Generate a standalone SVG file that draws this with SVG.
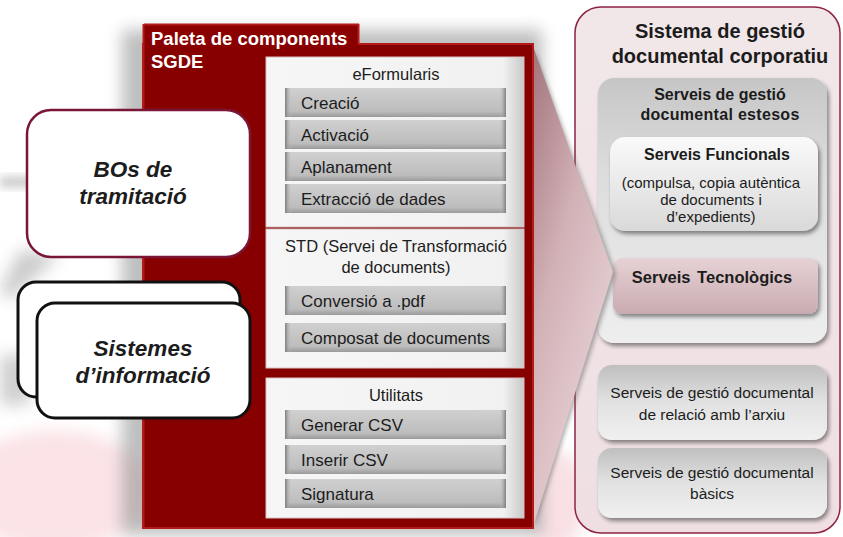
<svg xmlns="http://www.w3.org/2000/svg" width="843" height="537" viewBox="0 0 843 537">
<defs>
  <filter id="blur8" x="-30%" y="-30%" width="160%" height="160%"><feGaussianBlur stdDeviation="8"/></filter>
  <filter id="blur4" x="-30%" y="-30%" width="160%" height="160%"><feGaussianBlur stdDeviation="4"/></filter>
  <filter id="blur2" x="-20%" y="-20%" width="140%" height="140%"><feGaussianBlur stdDeviation="2"/></filter>
  <filter id="shadow" x="-10%" y="-10%" width="125%" height="130%">
    <feGaussianBlur in="SourceAlpha" stdDeviation="2"/>
    <feOffset dx="2" dy="3" result="o"/>
    <feComponentTransfer><feFuncA type="linear" slope="0.45"/></feComponentTransfer>
    <feMerge><feMergeNode/><feMergeNode in="SourceGraphic"/></feMerge>
  </filter>
  <linearGradient id="btn" x1="0" y1="0" x2="0" y2="1">
    <stop offset="0" stop-color="#d0d0d0"/>
    <stop offset="0.8" stop-color="#bdbdbd"/>
    <stop offset="1" stop-color="#9a9a9a"/>
  </linearGradient>
  <linearGradient id="btnSide" x1="0" y1="0" x2="1" y2="0">
    <stop offset="0" stop-color="#7e7e7e"/>
    <stop offset="0.03" stop-color="#c6c6c6" stop-opacity="0"/>
    <stop offset="0.97" stop-color="#c6c6c6" stop-opacity="0"/>
    <stop offset="1" stop-color="#7e7e7e"/>
  </linearGradient>
  <linearGradient id="panel" x1="0" y1="0" x2="1" y2="0">
    <stop offset="0" stop-color="#f6f6f6"/>
    <stop offset="0.92" stop-color="#f1f1f1"/>
    <stop offset="1" stop-color="#c9c9c9"/>
  </linearGradient>
  <linearGradient id="outer" x1="0" y1="0" x2="0" y2="1">
    <stop offset="0" stop-color="#f1e7e9"/>
    <stop offset="1" stop-color="#efdfe2"/>
  </linearGradient>
  <linearGradient id="grayBox" x1="0" y1="0" x2="0" y2="1">
    <stop offset="0" stop-color="#c6c6c6"/>
    <stop offset="0.35" stop-color="#dcdcdc"/>
    <stop offset="1" stop-color="#eeeeee"/>
  </linearGradient>
  <linearGradient id="grayBox2" x1="0" y1="0" x2="0" y2="1">
    <stop offset="0" stop-color="#bfbfbf"/>
    <stop offset="0.5" stop-color="#e2e2e2"/>
    <stop offset="1" stop-color="#f0f0f0"/>
  </linearGradient>
  <linearGradient id="func" x1="0" y1="0" x2="0" y2="1">
    <stop offset="0" stop-color="#fafafa"/>
    <stop offset="1" stop-color="#d9d9d9"/>
  </linearGradient>
  <linearGradient id="tec" x1="0" y1="0" x2="0" y2="1">
    <stop offset="0" stop-color="#e6d2d5"/>
    <stop offset="1" stop-color="#c8abb0"/>
  </linearGradient>
  <linearGradient id="trap" x1="0" y1="0" x2="0.6" y2="1">
    <stop offset="0" stop-color="#a3737b"/>
    <stop offset="0.45" stop-color="#d1b1b6"/>
    <stop offset="1" stop-color="#ebd7da"/>
  </linearGradient>
</defs>
<style>
  .t{font-family:"Liberation Sans",Arial,sans-serif;fill:#1c1c1c}
  .btnText{font-size:17px}
  .ptitle{font-size:16.5px;text-anchor:middle}
  .bi{font-size:22.5px;font-weight:bold;font-style:italic;text-anchor:middle}
  .rb{font-weight:bold;text-anchor:middle}
  .rr{text-anchor:middle}
  .wt{font-family:"Liberation Sans",Arial,sans-serif;fill:#ffffff;font-weight:bold;font-size:18.5px}
</style>

<!-- background soft shading -->
<g id="background">
  <rect x="0" y="0" width="843" height="537" fill="#ffffff"/>
  <ellipse cx="55" cy="490" rx="95" ry="60" fill="#fbe3e7" filter="url(#blur8)"/>
  <ellipse cx="555" cy="500" rx="30" ry="50" fill="#f8e0e4" filter="url(#blur8)"/>
  <rect x="122" y="30" width="420" height="505" fill="#8a8a8a" opacity="0.55" filter="url(#blur8)"/>
  <polygon points="20,250 60,255 10,300 0,290" fill="#9a9a9a" opacity="0.5" filter="url(#blur8)"/>
  <rect x="0" y="176" width="40" height="12" fill="#b0b0b0" opacity="0.6" filter="url(#blur4)"/>
  <rect x="0" y="355" width="30" height="50" fill="#a0a0a0" opacity="0.5" filter="url(#blur8)"/>
</g>

<!-- right panel -->
<g id="sistema-corporatiu">
  <rect x="575" y="7" width="265" height="526" rx="26" fill="url(#outer)" stroke="#8d2343" stroke-width="1.5"/>
  <text class="t rb" x="720" y="38" font-size="20">Sistema de gestió</text>
  <text class="t rb" x="720" y="63" font-size="20">documental  corporatiu</text>
</g>

<g id="serveis-estesos">
  <rect x="598" y="78" width="229" height="265" rx="16" fill="url(#grayBox)" filter="url(#shadow)"/>
  <text class="t rb" x="720" y="100" font-size="16">Serveis de gestió</text>
  <text class="t rb" x="720" y="120" font-size="16" letter-spacing="0.3">documental estesos</text>
</g>

<g id="serveis-funcionals">
  <rect x="610" y="137" width="208" height="94" rx="15" fill="url(#func)" filter="url(#shadow)"/>
  <text class="t rb" x="717" y="160" font-size="16">Serveis Funcionals</text>
  <text class="t rr" x="711" y="188" font-size="15">(compulsa, copia autèntica</text>
  <text class="t rr" x="711" y="205" font-size="15">de documents i</text>
  <text class="t rr" x="711" y="222" font-size="15">d’expedients)</text>
</g>

<g id="serveis-tecnologics">
  <rect x="613" y="258" width="205" height="56" rx="9" fill="url(#tec)" filter="url(#shadow)"/>
  <text class="t rb" x="712" y="283" font-size="16.5" word-spacing="2">Serveis Tecnològics</text>
</g>

<g id="serveis-arxiu">
  <rect x="598" y="365" width="229" height="75" rx="14" fill="url(#grayBox2)" filter="url(#shadow)"/>
  <text class="t rr" x="712" y="398" font-size="15.5">Serveis de gestió documental</text>
  <text class="t rr" x="712" y="420" font-size="15.5">de relació amb l’arxiu</text>
</g>

<g id="serveis-basics">
  <rect x="598" y="448" width="229" height="70" rx="14" fill="url(#grayBox2)" filter="url(#shadow)"/>
  <text class="t rr" x="712" y="478" font-size="15.5">Serveis de gestió documental</text>
  <text class="t rr" x="712" y="499" font-size="15.5">bàsics</text>
</g>

<!-- connector: zoom callout from palette to corporate system -->
<g id="connectors">
  <polygon points="535,50 616,274 535,526" fill="#6d6d6d" opacity="0.55" filter="url(#blur2)"/>
  <polygon points="533,46 613,272 533,527" fill="url(#trap)"/>
</g>

<!-- palette -->
<g id="paleta-sgde">
  <rect x="143" y="24" width="216" height="30" fill="#8a0000"/>
  <rect x="143" y="44" width="390" height="484" fill="#870000" stroke="#b31b1b" stroke-width="2"/>
  <rect x="144" y="25" width="214" height="22" fill="#8a0000"/>
  <line x1="144" y1="24.5" x2="359" y2="24.5" stroke="#b31b1b" stroke-width="2"/>
  <line x1="358.5" y1="24" x2="358.5" y2="44" stroke="#b31b1b" stroke-width="2"/>
  <line x1="143.5" y1="24" x2="143.5" y2="528" stroke="#b31b1b" stroke-width="2"/>
  <text class="wt" x="151" y="45">Paleta de components</text>
  <text class="wt" x="151" y="68">SGDE</text>
</g>

<g id="eformularis">
  <rect x="266" y="57" width="258" height="170" fill="url(#panel)" stroke="#d8c2c2" stroke-width="1"/>
  <text class="t ptitle" x="396" y="80">eFormularis</text>
  <g id="creacio"><rect x="285" y="88" width="221" height="29" fill="url(#btn)"/><rect x="285" y="88" width="221" height="29" fill="url(#btnSide)"/><text class="t btnText" x="301" y="109">Creació</text></g>
  <g id="activacio"><rect x="285" y="120" width="221" height="29" fill="url(#btn)"/><rect x="285" y="120" width="221" height="29" fill="url(#btnSide)"/><text class="t btnText" x="301" y="141">Activació</text></g>
  <g id="aplanament"><rect x="285" y="152" width="221" height="29" fill="url(#btn)"/><rect x="285" y="152" width="221" height="29" fill="url(#btnSide)"/><text class="t btnText" x="301" y="173">Aplanament</text></g>
  <g id="extraccio"><rect x="285" y="184" width="221" height="29" fill="url(#btn)"/><rect x="285" y="184" width="221" height="29" fill="url(#btnSide)"/><text class="t btnText" x="301" y="205">Extracció de dades</text></g>
</g>

<g id="std">
  <rect x="266" y="229" width="258" height="139" fill="url(#panel)" stroke="#d8c2c2" stroke-width="1"/>
  <text class="t ptitle" x="396" y="252">STD (Servei de Transformació</text>
  <text class="t ptitle" x="396" y="273">de documents)</text>
  <g id="conversio"><rect x="285" y="286" width="221" height="29" fill="url(#btn)"/><rect x="285" y="286" width="221" height="29" fill="url(#btnSide)"/><text class="t btnText" x="301" y="307">Conversió a .pdf</text></g>
  <g id="composat"><rect x="285" y="323" width="221" height="29" fill="url(#btn)"/><rect x="285" y="323" width="221" height="29" fill="url(#btnSide)"/><text class="t btnText" x="301" y="344">Composat de documents</text></g>
</g>

<g id="utilitats">
  <rect x="266" y="378" width="258" height="140" fill="url(#panel)" stroke="#d8c2c2" stroke-width="1"/>
  <text class="t ptitle" x="396" y="401">Utilitats</text>
  <g id="generar-csv"><rect x="285" y="410" width="221" height="29" fill="url(#btn)"/><rect x="285" y="410" width="221" height="29" fill="url(#btnSide)"/><text class="t btnText" x="301" y="431">Generar CSV</text></g>
  <g id="inserir-csv"><rect x="285" y="445" width="221" height="29" fill="url(#btn)"/><rect x="285" y="445" width="221" height="29" fill="url(#btnSide)"/><text class="t btnText" x="301" y="466">Inserir CSV</text></g>
  <g id="signatura"><rect x="285" y="479" width="221" height="29" fill="url(#btn)"/><rect x="285" y="479" width="221" height="29" fill="url(#btnSide)"/><text class="t btnText" x="301" y="500">Signatura</text></g>
</g>

<!-- left nodes -->
<g id="bos-tramitacio">
  <rect x="27" y="110" width="223" height="147" rx="24" fill="#ffffff" stroke="#7b1535" stroke-width="2.5"/>
  <text class="t bi" x="133" y="177">BOs de</text>
  <text class="t bi" x="133" y="204">tramitació</text>
</g>

<g id="sistemes-informacio">
  <rect x="18" y="282" width="222" height="115" rx="18" fill="#ffffff" stroke="#111111" stroke-width="3"/>
  <rect x="37" y="303" width="213" height="115" rx="18" fill="#ffffff" stroke="#111111" stroke-width="3"/>
  <text class="t bi" x="143" y="356">Sistemes</text>
  <text class="t bi" x="143" y="383">d’informació</text>
</g>
</svg>
